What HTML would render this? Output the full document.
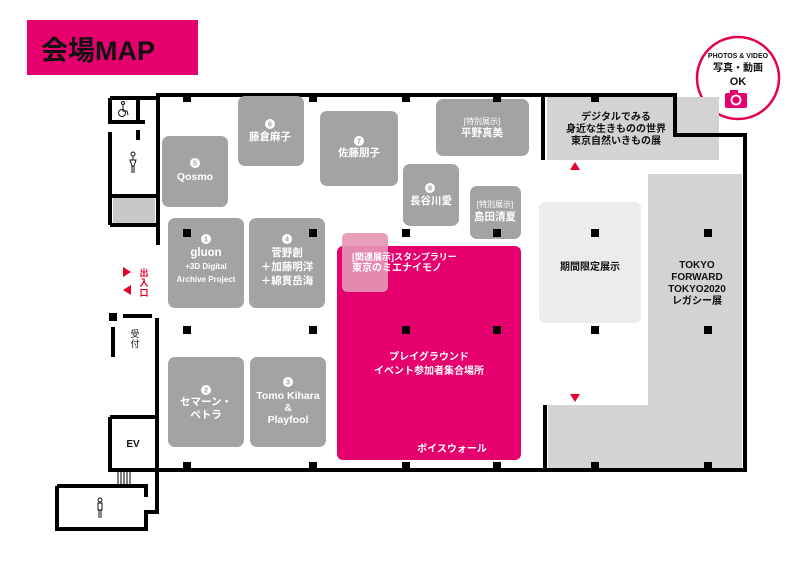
<!DOCTYPE html>
<html><head><meta charset="utf-8"><style>
html,body{margin:0;padding:0;background:#fff;}
svg text{font-family:"Liberation Sans","Noto Sans CJK JP",sans-serif;}
</style></head><body>
<svg width="800" height="567" viewBox="0 0 800 567" xmlns="http://www.w3.org/2000/svg">
<rect width="800" height="567" fill="#fff"/>
<rect x="27" y="20" width="171" height="55" fill="#e6006e"/>
<text x="41" y="60" font-size="27" font-weight="bold" fill="#111">会場MAP</text>
<circle cx="738" cy="78" r="41" fill="#fff" stroke="#e5004f" stroke-width="2.5"/>
<text x="738" y="58" font-size="7" font-weight="bold" text-anchor="middle" fill="#111">PHOTOS &amp; VIDEO</text>
<text x="738" y="71" font-size="10" font-weight="bold" text-anchor="middle" fill="#111">写真・動画</text>
<text x="738" y="85" font-size="11" font-weight="bold" text-anchor="middle" fill="#111">OK</text>
<rect x="725" y="93" width="22" height="15" rx="2" fill="#e6006e"/>
<rect x="730" y="90" width="8" height="4" fill="#e6006e"/>
<circle cx="736" cy="100" r="4.5" fill="none" stroke="#fff" stroke-width="1.8"/>

<rect x="547" y="97" width="172" height="63" fill="#d3d3d4"/>
<rect x="648" y="174" width="94" height="294" fill="#d3d3d4"/>
<rect x="548" y="405" width="194" height="63" fill="#d3d3d4"/>
<rect x="539" y="202" width="102" height="121" rx="6" fill="#ebecec"/>
<rect x="113" y="198" width="42" height="27" fill="#c8c8c8"/>

<g fill="none" stroke="#000" stroke-width="4">
<path d="M158 245 V95 H675 V135 H745 V470 H157"/>
<path d="M543 97 V160"/>
<path d="M545 405 V470"/>
<path d="M110 98 H158 M110 98 V122 H145 M138 98 V122"/>
<path d="M138 130 V140 M110 132 V225 M112 196 H158 M110 225 H156"/>
<path d="M123 316 H152 M113 327 V357"/>
<path d="M157 318 V510"/>
<path d="M110 417 V470 H157 M110 417 H157"/>
<path d="M57 486 H146 V497 M57 486 V529 H146 V512 H157 V505"/>
</g>
<rect x="109" y="313" width="8" height="8" fill="#000"/>
<g stroke="#000" stroke-width="1"><path d="M118 470 V486 M121 470 V486 M124 470 V486 M127 470 V486 M130 470 V486"/></g>
<text x="133" y="447" font-size="10" font-weight="bold" text-anchor="middle" fill="#111">EV</text>
<text x="135" y="337" font-size="9" text-anchor="middle" fill="#111">受</text>
<text x="135" y="347" font-size="9" text-anchor="middle" fill="#111">付</text>
<!-- icons -->
<g fill="none" stroke="#111" stroke-width="1">
<circle cx="123" cy="103" r="1.5"/><path d="M123 105 V111 H127 L128 115"/><circle cx="122" cy="113" r="3.5"/>
<circle cx="133" cy="154" r="2"/><path d="M133 156 V160 M130 160 H136 L134 166 H132 Z M132 166 V173 M134 166 V173"/>
<circle cx="100" cy="500" r="2"/><path d="M98 503 H102 V510 H98 Z M99 510 V518 M101 510 V518"/>
</g>

<polygon points="123,267 131,272 123,277" fill="#e6002e"/>
<polygon points="131,285 123,290 131,295" fill="#e6002e"/>
<g font-size="9" font-weight="bold" fill="#e6002e" text-anchor="middle">
<text x="144" y="276">出</text><text x="144" y="286">入</text><text x="144" y="296">口</text></g>

<rect x="337" y="246" width="184" height="214" rx="6" fill="#e6006e"/>
<rect x="342" y="233" width="46" height="59" rx="5" fill="#e596b3" opacity="0.92"/>
<g fill="#fff" font-size="9" font-weight="bold">
<text x="352" y="260">[関連展示]スタンプラリー</text>
<text x="352" y="271" font-size="10">東京のミエナイモノ</text>
<text x="429" y="360" text-anchor="middle" font-size="10">プレイグラウンド</text>
<text x="429" y="374" text-anchor="middle" font-size="10">イベント参加者集合場所</text>
<text x="452" y="452" text-anchor="middle" font-size="10">ボイスウォール</text>
</g>

<g fill="#a3a3a3">
<rect x="238" y="96" width="66" height="70" rx="7"/>
<rect x="162" y="136" width="66" height="71" rx="7"/>
<rect x="320" y="111" width="78" height="75" rx="7"/>
<rect x="436" y="99" width="93" height="57" rx="7"/>
<rect x="403" y="164" width="56" height="62" rx="7"/>
<rect x="470" y="186" width="51" height="53" rx="7"/>
<rect x="168" y="218" width="76" height="90" rx="7"/>
<rect x="249" y="218" width="76" height="90" rx="7"/>
<rect x="168" y="357" width="76" height="90" rx="7"/>
<rect x="250" y="357" width="76" height="90" rx="7"/>
</g>
<g fill="#fff">
<circle cx="270" cy="124" r="5"/><circle cx="195" cy="163" r="5"/><circle cx="359" cy="141" r="5"/>
<circle cx="430" cy="188" r="5"/><circle cx="206" cy="239" r="5"/><circle cx="287" cy="239" r="5"/>
<circle cx="206" cy="390" r="5"/><circle cx="288" cy="382" r="5"/>
</g>
<g fill="#a3a3a3" font-size="7.5" text-anchor="middle" font-weight="bold">
<text x="270" y="126.5">6</text><text x="195" y="165.5">5</text><text x="359" y="143.5">7</text>
<text x="430" y="190.5">8</text><text x="206" y="241.5">1</text><text x="287" y="241.5">4</text>
<text x="206" y="392.5">2</text><text x="288" y="384.5">3</text>
</g>
<g fill="#fff" font-size="10.5" text-anchor="middle" font-weight="bold">
<text x="270" y="140">藤倉麻子</text>
<text x="195" y="180">Qosmo</text>
<text x="359" y="156">佐藤朋子</text>
<text x="482" y="124" font-size="8" font-weight="normal">[特別展示]</text>
<text x="482" y="136">平野真美</text>
<text x="431" y="204">長谷川愛</text>
<text x="495" y="207" font-size="8" font-weight="normal">[特別展示]</text>
<text x="495" y="220">島田清夏</text>
<text x="206" y="256" font-size="11.5">gluon</text>
<text x="206" y="269" font-size="8">+3D Digital</text>
<text x="206" y="282" font-size="8">Archive Project</text>
<text x="287" y="256">菅野創</text>
<text x="287" y="270">＋加藤明洋</text>
<text x="287" y="284">＋綿貫岳海</text>
<text x="206" y="405">セマーン・</text>
<text x="206" y="418">ペトラ</text>
<text x="288" y="399" font-size="10.5">Tomo Kihara</text>
<text x="288" y="411">&amp;</text>
<text x="288" y="423" font-size="10.5">Playfool</text>
</g>

<g fill="#111" font-size="10" text-anchor="middle" font-weight="bold">
<text x="616" y="120">デジタルでみる</text>
<text x="616" y="132">身近な生きものの世界</text>
<text x="616" y="144">東京自然いきもの展</text>
<text x="590" y="270">期間限定展示</text>
<text x="697" y="268">TOKYO</text>
<text x="697" y="280">FORWARD</text>
<text x="697" y="292">TOKYO2020</text>
<text x="697" y="304">レガシー展</text>
</g>
<polygon points="575,162 580,170 570,170" fill="#e6002e"/>
<polygon points="570,394 580,394 575,402" fill="#e6002e"/>

<g fill="#000">
<rect x="183" y="95" width="8" height="7"/><rect x="309" y="95" width="8" height="7"/><rect x="402" y="95" width="8" height="7"/><rect x="493" y="95" width="8" height="7"/><rect x="591" y="95" width="8" height="7"/>
<rect x="183" y="229" width="8" height="8"/><rect x="309" y="229" width="8" height="8"/><rect x="402" y="229" width="8" height="8"/><rect x="493" y="229" width="8" height="8"/><rect x="591" y="229" width="8" height="8"/><rect x="704" y="229" width="8" height="8"/>
<rect x="183" y="326" width="8" height="8"/><rect x="309" y="326" width="8" height="8"/><rect x="402" y="326" width="8" height="8"/><rect x="493" y="326" width="8" height="8"/><rect x="591" y="326" width="8" height="8"/><rect x="704" y="326" width="8" height="8"/>
<rect x="183" y="462" width="8" height="8"/><rect x="309" y="462" width="8" height="8"/><rect x="402" y="462" width="8" height="8"/><rect x="493" y="462" width="8" height="8"/><rect x="591" y="462" width="8" height="8"/><rect x="704" y="462" width="8" height="8"/>
</g>
</svg>
</body></html>
